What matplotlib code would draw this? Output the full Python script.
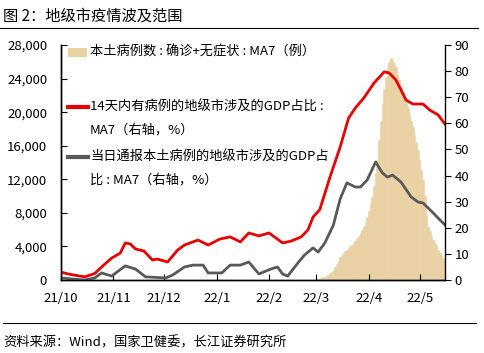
import pandas as pd
import matplotlib.pyplot as plt
from matplotlib.ticker import FuncFormatter, MultipleLocator
from matplotlib.lines import Line2D
from matplotlib.patches import Rectangle

plt.rcParams['font.family'] = ['Noto Sans CJK SC', 'DejaVu Sans']

# 14天内有病例的地级市涉及的GDP占比（右轴，%）
red_dates = ["2021-10-01", "2021-10-06", "2021-10-15", "2021-10-21", "2021-10-25",
             "2021-10-31", "2021-11-05", "2021-11-08", "2021-11-11", "2021-11-14",
             "2021-11-19", "2021-11-24", "2021-11-27", "2021-12-03", "2021-12-09",
             "2021-12-13", "2021-12-18", "2021-12-21", "2021-12-27", "2022-01-03",
             "2022-01-09", "2022-01-15", "2022-01-20", "2022-01-26", "2022-02-01",
             "2022-02-09", "2022-02-14", "2022-02-20", "2022-02-24", "2022-02-27",
             "2022-03-03", "2022-03-09", "2022-03-15", "2022-03-20", "2022-03-24",
             "2022-03-29", "2022-04-04", "2022-04-10", "2022-04-13", "2022-04-17",
             "2022-04-23", "2022-04-27", "2022-05-03", "2022-05-07", "2022-05-12",
             "2022-05-16"]
red_vals = [3.0, 2.2, 1.2, 2.5, 5.0,
            8.4, 10.3, 14.2, 13.8, 11.9,
            11.1, 7.7, 8.0, 6.9, 11.5,
            13.4, 14.6, 15.3, 13.4, 15.7,
            16.5, 14.6, 18.0, 16.9, 18.0,
            14.2, 14.9, 16.5, 19.2, 24.1,
            27.0, 39.4, 50.9, 62.0, 65.9,
            69.7, 75.4, 79.7, 79.3, 76.6,
            68.9, 67.4, 67.4, 65.1, 63.2,
            59.7]

# 当日通报本土病例的地级市涉及的GDP占比（右轴，%）
gray_dates = ["2021-10-01", "2021-10-09", "2021-10-15", "2021-10-21", "2021-10-25",
              "2021-10-31", "2021-11-04", "2021-11-08", "2021-11-14", "2021-11-20",
              "2021-12-02", "2021-12-06", "2021-12-13", "2021-12-18", "2021-12-24",
              "2021-12-27", "2022-01-04", "2022-01-09", "2022-01-15", "2022-01-20",
              "2022-01-26", "2022-02-02", "2022-02-06", "2022-02-09", "2022-02-12",
              "2022-02-18", "2022-02-22", "2022-02-27", "2022-03-02", "2022-03-06",
              "2022-03-11", "2022-03-15", "2022-03-19", "2022-03-24", "2022-03-27",
              "2022-03-31", "2022-04-05", "2022-04-09", "2022-04-12", "2022-04-15",
              "2022-04-20", "2022-04-26", "2022-04-30", "2022-05-03", "2022-05-09",
              "2022-05-13", "2022-05-16"]
gray_vals = [0.8, 0.3, 0.0, 0.8, 2.7,
             1.5, 3.5, 5.4, 4.2, 1.2,
             0.8, 1.9, 5.0, 5.7, 5.7,
             2.7, 2.7, 5.7, 5.7, 6.9,
             2.3, 4.2, 5.0, 2.3, 1.5,
             6.5, 9.6, 12.3, 10.7, 14.2,
             21.0, 31.0, 37.2, 35.6, 35.6,
             38.3, 45.2, 41.0, 39.4, 40.2,
             37.5, 31.8, 29.9, 29.5, 25.7,
             23.0, 21.1]

# 本土病例数：确诊+无症状：MA7（例），逐日
case_start = "2022-03-01"
cases = [100, 150, 200, 250, 300, 400, 500, 650, 800, 1000,
         1200, 1500, 1900, 2300, 2700, 2950, 3200, 3400, 3600, 3800,
         4000, 4200, 4400, 4650, 4950, 5250, 5600, 6000, 6450, 6950,
         7500, 8200, 9000, 9900, 11200, 12700, 14300, 16700, 19000, 21000,
         22800, 24200, 25300, 26000, 26400, 26200, 25900, 25400, 24600, 23800,
         23000, 22400, 21800, 21200, 20600, 19800, 19000, 18200, 17300, 16400,
         15500, 14300, 13100, 11900, 10000, 7800, 6300, 5800, 5300, 4800,
         4400, 4000, 3600, 3200, 2900, 2600, 2400]

month_ticks = ["2021-10-01", "2021-11-01", "2021-12-01", "2022-01-01",
               "2022-02-01", "2022-03-01", "2022-04-01", "2022-05-01"]
month_labels = ["21/10", "21/11", "21/12", "22/1", "22/2", "22/3", "22/4", "22/5"]

TAN = "#E9D1A3"
RED = "#E60000"
GRAY = "#595959"
W, H = 485, 353


def main():
    fig = plt.figure(figsize=(W / 100, H / 100), dpi=100)
    ax = fig.add_axes([61 / W, 1 - 280 / H, (445 - 61) / W, (280 - 45) / H])

    case_dates = pd.date_range(case_start, periods=len(cases), freq="D")
    ax.bar(case_dates, cases, width=1.0, color=TAN, edgecolor=TAN, linewidth=0.4)
    ax.set_ylim(0, 28000)
    ax.yaxis.set_major_locator(MultipleLocator(4000))
    ax.yaxis.set_major_formatter(FuncFormatter(lambda v, p: f"{int(v):,}"))

    ax2 = ax.twinx()
    ax2.plot(pd.to_datetime(red_dates), red_vals, color=RED, lw=2.0)
    ax2.plot(pd.to_datetime(gray_dates), gray_vals, color=GRAY, lw=2.0)
    ax2.set_ylim(0, 90)
    ax2.yaxis.set_major_locator(MultipleLocator(10))

    ax.set_xlim(pd.Timestamp("2021-10-01"), pd.Timestamp("2022-05-16"))
    ax.set_xticks(pd.to_datetime(month_ticks))
    ax.set_xticklabels(month_labels)

    for a in (ax, ax2):
        a.spines["top"].set_visible(False)
        for s in a.spines.values():
            s.set_linewidth(1.0)
    ax.spines["right"].set_visible(False)
    ax.tick_params(axis="y", direction="in", length=4, pad=10, labelsize=9.5)
    ax.tick_params(axis="x", direction="in", length=4, pad=9, labelsize=9.5)
    ax2.tick_params(axis="y", direction="out", length=4, pad=3, labelsize=9.5)

    # 图例
    fs = 9.5
    fig.add_artist(Rectangle((68 / W, 1 - 57 / H), 19 / W, 9 / H,
                             transform=fig.transFigure, color=TAN, lw=0))
    fig.text(90 / W, 1 - 52 / H, "本土病例数 : 确诊+无症状 : MA7（例）",
             fontsize=fs, va="center")
    fig.add_artist(Line2D([68 / W, 88 / W], [1 - 107 / H] * 2, color=RED, lw=3,
                          transform=fig.transFigure))
    fig.text(90 / W, 1 - 107 / H, "14天内有病例的地级市涉及的GDP占比 :",
             fontsize=fs, va="center")
    fig.text(90 / W, 1 - 130 / H, "MA7（右轴，%）", fontsize=fs, va="center")
    fig.add_artist(Line2D([68 / W, 88 / W], [1 - 157 / H] * 2, color=GRAY, lw=3,
                          transform=fig.transFigure))
    fig.text(90 / W, 1 - 157 / H, "当日通报本土病例的地级市涉及的GDP占",
             fontsize=fs, va="center")
    fig.text(90 / W, 1 - 180 / H, "比 : MA7（右轴，%）", fontsize=fs, va="center")

    # 标题与来源
    fig.text(3 / W, 1 - 16.5 / H, "图 2：地级市疫情波及范围", fontsize=11, va="center")
    fig.add_artist(Line2D([0, 478 / W], [1 - 28 / H] * 2, color="black", lw=0.8,
                          transform=fig.transFigure))
    fig.add_artist(Line2D([3 / W, 476 / W], [1 - 323 / H] * 2, color="black", lw=0.8,
                          transform=fig.transFigure))
    fig.text(3 / W, 1 - 343 / H, "资料来源：Wind，国家卫健委，长江证券研究所",
             fontsize=9.5, va="center")

    fig.savefig("out.png", dpi=100)


if __name__ == "__main__":
    main()
